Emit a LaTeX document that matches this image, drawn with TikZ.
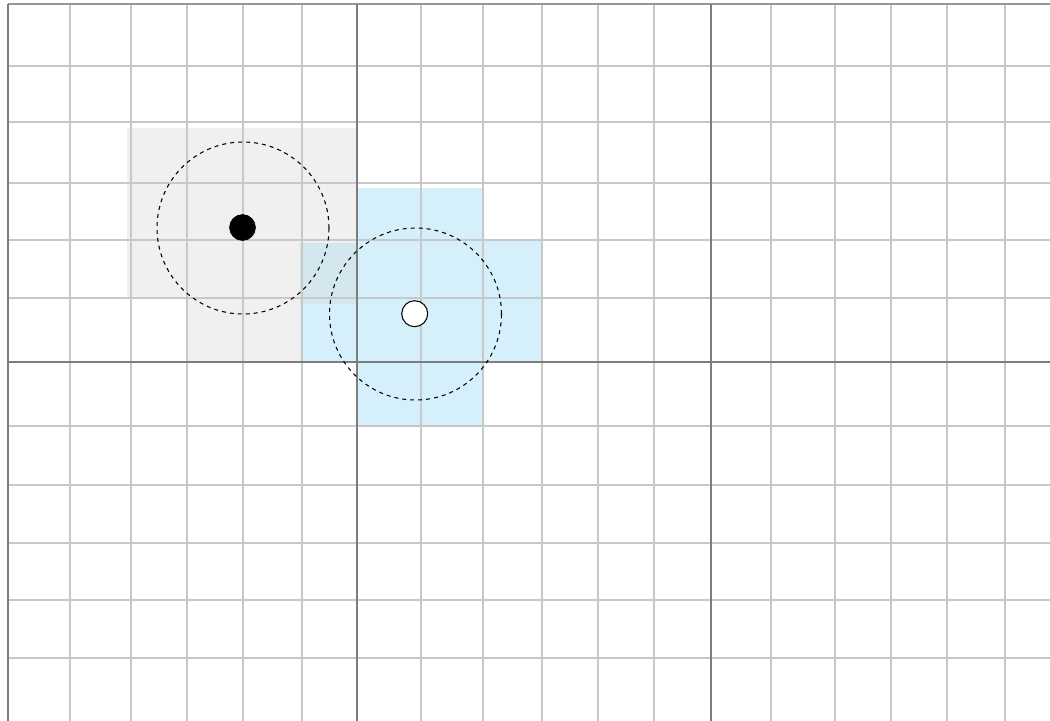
\documentclass[tikz,border=0pt]{standalone}
\definecolor{gridlight}{RGB}{200,200,200}
\definecolor{griddark}{RGB}{125,125,125}
\definecolor{gridtop}{RGB}{150,150,150}
\definecolor{grayfill}{RGB}{240,240,240}
\definecolor{bluefill}{RGB}{214,240,251}
\definecolor{overlapfill}{RGB}{212,231,239}
\tikzset{
  minor/.style={draw=gridlight,line width=1.5pt},
  major/.style={draw=griddark,line width=1.5pt},
  ring/.style={circle,draw=black,dashed,line width=0.8pt,minimum size=129pt,inner sep=0pt},
  blackdot/.style={circle,fill=black,draw=black,minimum size=19.5pt,inner sep=0pt},
  whitedot/.style={circle,fill=white,draw=black,line width=0.8pt,minimum size=19.5pt,inner sep=0pt}
}
\begin{document}
\begin{tikzpicture}[x=0.75pt,y=-0.75pt]
\useasboundingbox (0,0) rectangle (1050,721);
\fill[white] (0,0) rectangle (1050,721);
% shaded regions
\fill[grayfill] (127,128) -- (358,128) -- (358,297) -- (302,297) -- (302,362) -- (187,362) -- (187,297) -- (127,297) -- cycle;
\fill[bluefill] (358,188) -- (484,188) -- (484,240) -- (542,240) -- (542,362) -- (484,362) -- (484,426) -- (358,426) -- (358,362) -- (300,362) -- (300,243) -- (358,243) -- cycle;
\fill[overlapfill] (300,243) rectangle (357,304);
% minor grid
\foreach \x in {70,131,187,243,302,421,483,542,598,654,771,835,891,947,1005}
  \draw[minor] (\x,4) -- (\x,721);
\foreach \y in {66,122,183,240,298,426,485,543,600,658}
  \draw[minor] (8,\y) -- (1050,\y);
% major lines
\draw[draw=gridtop,line width=1.5pt] (8,4) -- (1050,4);
\foreach \x in {8,357,711}
  \draw[major] (\x,4) -- (\x,721);
\draw[major] (8,362) -- (1050,362);
% rings and dots
\node[ring] (ringA) at (243,228) {};
\node[ring] (ringB) at (415.5,314) {};
\node[blackdot] (dotA) at (242.5,227.5) {};
\node[whitedot] (dotB) at (414.7,313.7) {};
\end{tikzpicture}
\end{document}
